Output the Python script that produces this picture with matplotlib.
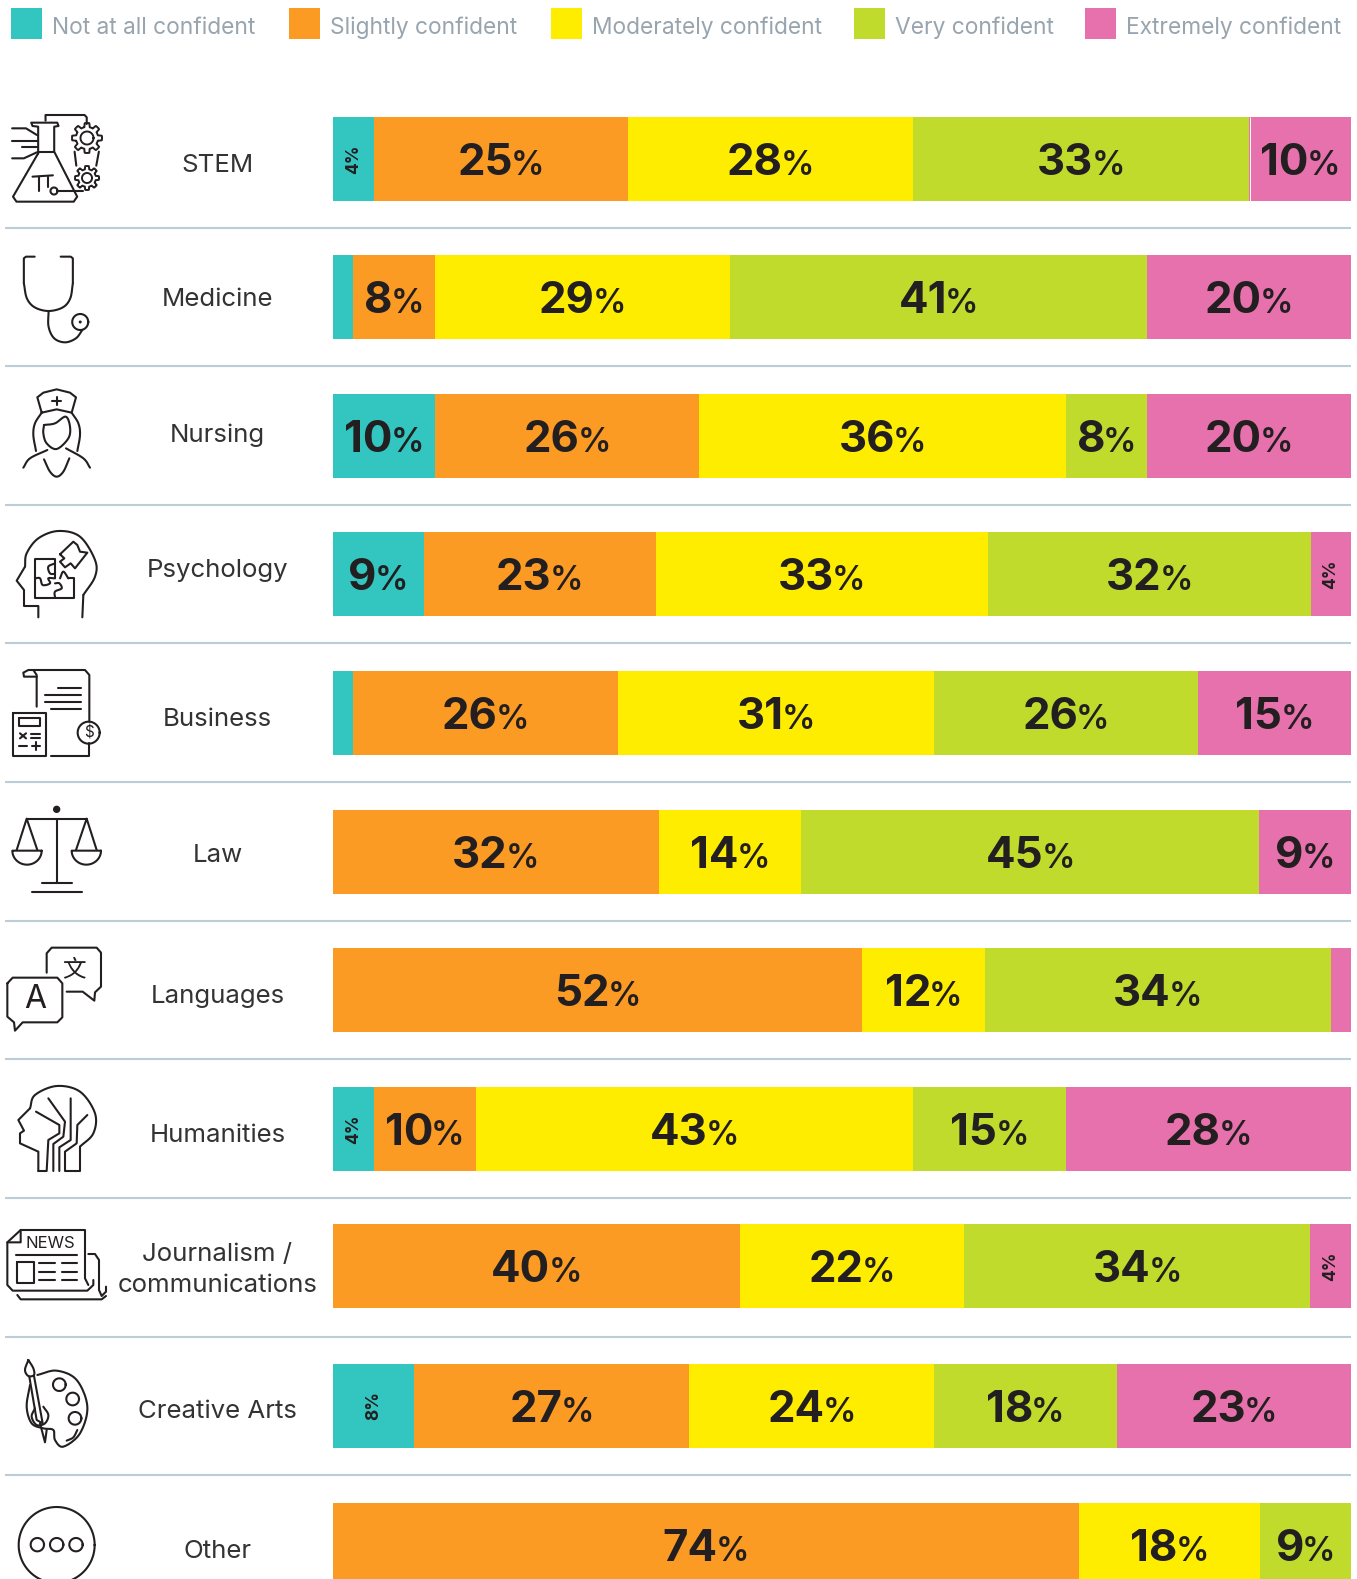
# chart: confidence by subject, stacked bars with line icons
import matplotlib
matplotlib.use('Agg')
import matplotlib.pyplot as plt
import numpy as np

plt.rcParams['font.family'] = ['Inter', 'DejaVu Sans']

subjects = ['STEM', 'Medicine', 'Nursing', 'Psychology', 'Business', 'Law', 'Languages',
            'Humanities', 'Journalism /\ncommunications', 'Creative Arts', 'Other']
levels = ['Not at all confident', 'Slightly confident', 'Moderately confident',
          'Very confident', 'Extremely confident']
not_at_all = [4, 2, 10, 9, 2, 0, 0, 4, 0, 8, 0]
slightly = [25, 8, 26, 23, 26, 32, 52, 10, 40, 27, 74]
moderately = [28, 29, 36, 33, 31, 14, 12, 43, 22, 24, 18]
very = [33, 41, 8, 32, 26, 45, 34, 15, 34, 18, 9]
extremely = [10, 20, 20, 4, 15, 9, 2, 28, 4, 23, 0]
colors = ['#33C6C0', '#FC9B24', '#FFED00', '#C1DB2C', '#E671AC']

# (row, series) of labels written small and turned on their side
side_labels = [(0, 0), (3, 4), (7, 0), (8, 4), (9, 0)]
no_labels = [(1, 0), (4, 0), (6, 4)]

INK = '#231F20'
W, H = 1357, 1579
fig = plt.figure(figsize=(W / 100, H / 100), dpi=100, facecolor='white')

# overlay in pixel units for legend, names, rules and icons
px = fig.add_axes([0, 0, 1, 1])
px.set_xlim(0, W)
px.set_ylim(H, 0)
px.axis('off')
px.set_zorder(2)

# bar axes: y is in picture pixels, x in percent
row_top = [117, 255, 394, 532, 671, 810, 948, 1087, 1224, 1364, 1503]
ax = fig.add_axes([333 / W, 0, 1018 / W, 1])
ax.set_ylim(H, 0)
ax.set_xlim(0, 100)
ax.axis('off')
ax.patch.set_alpha(0)

table = np.array([not_at_all, slightly, moderately, very, extremely], dtype=float)
shares = table / table.sum(axis=0) * 100
left = np.zeros(len(subjects))
rows = np.array(row_top) + 42
renderer = fig.canvas.get_renderer()

for s in range(5):
    ax.barh(rows, shares[s], left=left, height=84, color=colors[s], linewidth=0)
    for r in range(len(subjects)):
        val = int(table[s, r])
        if val == 0 or (r, s) in no_labels:
            continue
        xc = left[r] + shares[s, r] / 2
        if (r, s) in side_labels:
            ax.annotate('%d%%' % val, (xc, rows[r]), ha='center', va='center', rotation=90,
                        fontsize=12.5, fontweight='bold', color=INK)
            continue
        t1 = ax.annotate(str(val), (xc, rows[r]), xytext=(0, -16), textcoords='offset pixels',
                         ha='left', va='baseline', fontsize=31.5, fontweight='bold', color=INK)
        t2 = ax.annotate('%', (xc, rows[r]), xytext=(0, -16), textcoords='offset pixels',
                         ha='left', va='baseline', fontsize=24, fontweight='semibold', color=INK)
        w1 = t1.get_window_extent(renderer).width
        w2 = t2.get_window_extent(renderer).width
        t1.xyann = (-(w1 + w2) / 2 + 1, -16)
        t2.xyann = (-(w1 + w2) / 2 + w1 - 1, -16)
    left += shares[s]

# hairline left between the last two STEM blocks
px.plot([1249.5, 1249.5], [117, 201], color='white', lw=0.7, solid_capstyle='butt')

# legend
box_x = [11, 289, 551, 854, 1085]
text_x = [52, 330, 592, 895, 1126]
for i in range(5):
    px.add_patch(plt.Rectangle((box_x[i], 8), 31, 31, color=colors[i], linewidth=0))
    px.text(text_x[i], 28, levels[i], fontsize=16.4, color='#98A4AE', va='center', ha='left')

# subject names
name_y = [165, 300, 435, 571, 720, 856, 997, 1136, 1270, 1411, 1551]
for name, y in zip(subjects, name_y):
    px.text(217.5, y, name, fontsize=18.6, color='#333333', ha='center', va='center',
            linespacing=1.42)

# rules between rows
for y in [228, 366, 505, 643, 782, 921, 1059, 1198, 1337, 1475]:
    px.plot([5, 1351], [y, y], color='#BCCDDA', lw=1.5, solid_capstyle='butt')


# ---- icons ----
def smooth(p, n=12):
    p = np.array(p, dtype=float)
    q = np.vstack([2 * p[0] - p[1], p, 2 * p[-1] - p[-2]])
    out = []
    for i in range(1, len(q) - 2):
        for t in np.linspace(0, 1, n, endpoint=False):
            a = q[i - 1]; b = q[i]; c = q[i + 1]; d = q[i + 2]
            out.append(0.5 * (2 * b + (c - a) * t + (2 * a - 5 * b + 4 * c - d) * t ** 2
                              + (3 * b - a - 3 * c + d) * t ** 3))
    out.append(q[-2])
    return np.array(out)


def draw(p, y0=0, fx=3.0, fy=3.0, curve=False, lw=1.5):
    p = smooth(p) if curve else np.array(p, dtype=float)
    px.plot(p[:, 0] / fx, y0 + p[:, 1] / fy, color=INK, lw=lw, solid_capstyle='round',
            solid_joinstyle='round')


def ring(x, y, r, y0=0, fx=3.0, fy=3.0, lw=1.5, fill=False):
    a = np.linspace(0, 2 * np.pi, 80)
    X = (x + r * np.cos(a)) / fx
    Y = y0 + (y + r * np.sin(a)) / fy
    if fill:
        px.fill(X, Y, color=INK, lw=0)
    else:
        px.plot(X, Y, color=INK, lw=lw)


def gear(x, y, r, hole, teeth=8):
    a = np.linspace(0, 2 * np.pi, 320)
    rad = r * (0.87 + 0.13 * np.clip(3 * np.cos(teeth * a), -1, 1))
    px.plot(x + rad * np.cos(a), y + rad * np.sin(a), color=INK, lw=1.4)
    ring(x, y, hole, fx=1, fy=1, lw=1.4)


# STEM (first crop is 2.306 wide by 3 high)
f = dict(fx=2.306, fy=3.0)
draw([(88, 460), (88, 380), (75, 378), (72, 368), (132, 368), (135, 378), (125, 380), (125, 455),
      (178, 590), (170, 605), (38, 605), (30, 590), (88, 460)], **f)
draw([(88, 457), (125, 457)], **f)
draw([(105, 362), (105, 345), (195, 345), (200, 352), (200, 372)], **f)
draw([(28, 385), (60, 385), (85, 405)], **f)
draw([(28, 422), (85, 422)], **f)
draw([(50, 440), (85, 440)], **f)
draw([(28, 475), (55, 475), (85, 457)], **f)
draw([(75, 530), (122, 526)], **f)
draw([(90, 530), (90, 573)], **f)
draw([(110, 530), (110, 560)], **f)
ring(54, 191, 3.5, fx=1, fy=1)
draw([(135, 573), (192, 573)], **f)
gear(87, 138, 15, 6.5)
gear(87, 178, 12, 5)
draw([(172, 455), (176, 497)], **f)
draw([(228, 455), (222, 497)], **f)

# Medicine
draw([(80, 770), (60, 770), (55, 775), (55, 850)], **f)
draw([(168, 850), (168, 775), (163, 770), (140, 770)], **f)
draw([(55, 850), (62, 895), (80, 922), (112, 933), (145, 922), (162, 895), (168, 850)], curve=True, **f)
draw([(112, 933), (112, 980), (125, 1015), (150, 1027), (175, 1015), (190, 990)], curve=True, **f)
ring(185 / 2.306, 322, 8, fx=1, fy=1)
ring(185 / 2.306, 322, 1.5, fx=1, fy=1, fill=True)

# Nursing
y = 370
draw([(125, 128), (112, 82), (130, 68), (170, 58), (210, 68), (228, 82), (215, 128), (170, 118),
      (125, 128)], y)
draw([(157, 92), (183, 92)], y)
draw([(170, 80), (170, 104)], y)
draw([(125, 128), (105, 160), (100, 195), (108, 243)], y, curve=True)
draw([(215, 128), (235, 160), (240, 195), (232, 243)], y, curve=True)
draw([(132, 165), (165, 160), (197, 140), (210, 170), (205, 205), (170, 237), (140, 220), (130, 190),
      (132, 165)], y, curve=True)
draw([(70, 293), (90, 265), (142, 240)], y, curve=True)
draw([(270, 293), (250, 265), (198, 235)], y, curve=True)
draw([(132, 268), (150, 305), (170, 320), (190, 305), (208, 265)], y, curve=True)

# Psychology
y = 370
draw([(115, 742), (115, 708), (72, 708), (72, 660), (50, 632), (75, 590)], y)
draw([(75, 590), (80, 550), (115, 505), (175, 483), (240, 500), (285, 570), (285, 620), (250, 675)],
     y, curve=True)
draw([(250, 675), (247, 742)], y)
draw([(165, 625), (165, 575), (165, 568), (105, 568), (105, 683), (222, 683), (222, 625), (205, 625)], y)
draw([(165, 683), (165, 665), (185, 655), (178, 640), (165, 640)], y, curve=True)
draw([(105, 625), (120, 625), (128, 645), (150, 640), (145, 625), (165, 625)], y, curve=True)
draw([(165, 580), (145, 590), (150, 610), (165, 612)], y, curve=True)
draw([(180, 625), (190, 605), (205, 625)], y, curve=True)
draw([(180, 553), (220, 515), (232, 525), (240, 545), (262, 548), (225, 595), (212, 580), (195, 592),
      (180, 575), (193, 565), (180, 553)], y)

# Business
y = 370
draw([(110, 1010), (110, 915), (100, 900), (255, 900), (268, 915), (268, 1055)], y)
draw([(268, 1120), (268, 1157), (152, 1157)], y)
draw([(110, 920), (72, 920), (70, 908), (85, 900), (100, 900)], y)
for a, b, c in [(173, 242, 955), (135, 242, 975), (135, 242, 997), (152, 242, 1017)]:
    draw([(a, c), (b, c)], y)
ring(266, 1088, 33, y)
px.text(266 / 3, y + 1088 / 3, '$', fontsize=11, color=INK, ha='center', va='center')
draw([(40, 1028), (137, 1028), (137, 1157), (40, 1157), (40, 1028)], y)
draw([(58, 1045), (120, 1045), (120, 1067), (58, 1067), (58, 1045)], y)
draw([(60, 1090), (78, 1105)], y)
draw([(78, 1090), (60, 1105)], y)
draw([(93, 1092), (120, 1092)], y)
draw([(93, 1103), (120, 1103)], y)
draw([(58, 1127), (80, 1127)], y)
draw([(96, 1127), (120, 1127)], y)
draw([(108, 1115), (108, 1139)], y)

# Law
y = 790
ring(170, 58, 11, y, fill=True)
draw([(80, 86), (260, 86)], y)
draw([(170, 86), (170, 278)], y)
draw([(125, 278), (215, 278)], y)
draw([(95, 306), (245, 306)], y)
for cx, top in [(81, 80), (259, 260)]:
    draw([(cx - 31, 180), (top, 86), (cx + 31, 180)], y)
    ang = np.linspace(0, np.pi, 30)
    pan = [(cx + 44 * np.cos(u), 182 + 42 * np.sin(u)) for u in ang]
    draw(pan + [pan[0]], y)

# Languages
y = 790
draw([(140, 548), (140, 490), (155, 473), (290, 473), (303, 488), (303, 590), (285, 607), (283, 632),
      (248, 605), (200, 605)], y)
draw([(22, 580), (38, 563), (172, 563), (187, 580), (187, 682), (172, 697), (68, 697), (45, 722),
      (42, 697), (22, 680), (22, 580)], y)
px.text(105 / 3, y + 630 / 3, 'A', fontsize=23, color=INK, ha='center', va='center')
px.text(222 / 3, y + 540 / 3, '文', fontsize=17, color=INK, ha='center', va='center',
        family=['Noto Sans CJK SC', 'DejaVu Sans'])

# Humanities
y = 790
draw([(115, 1143), (115, 1085), (60, 1060), (60, 1030), (72, 1022), (55, 990), (90, 955)], y)
draw([(90, 955), (105, 915), (170, 888), (240, 905), (285, 970), (280, 1030), (240, 1070)], y, curve=True)
draw([(240, 1070), (240, 1143), (195, 1143), (195, 1085), (230, 1060), (232, 1005), (262, 975)], y)
draw([(145, 925), (195, 995), (190, 1040), (160, 1062), (160, 1143)], y)
draw([(108, 965), (178, 1005), (178, 1030), (145, 1050), (140, 1143), (115, 1143)], y)
draw([(212, 925), (212, 1050), (178, 1072), (178, 1143)], y)

# Journalism
y = 1210
draw([(22, 97), (62, 60), (255, 60), (255, 205), (265, 225)], y)
draw([(62, 60), (62, 97), (22, 97), (22, 225), (38, 242), (262, 242), (280, 225), (280, 210)], y)
px.text(152 / 3, y + 100 / 3, 'NEWS', fontsize=12, color=INK, ha='center', va='center')
draw([(48, 135), (230, 135)], y)
draw([(52, 155), (102, 155), (102, 218), (52, 218), (52, 155)], y)
for c in [160, 185, 210]:
    draw([(118, c), (165, c)], y)
    draw([(185, c), (232, c)], y)
draw([(265, 132), (285, 132), (297, 150), (297, 240), (305, 258), (318, 245), (318, 230)], y)
draw([(52, 255), (62, 268), (305, 268), (318, 258)], y)

# Creative Arts
y = 1210
draw([(112, 495), (170, 482), (230, 510), (262, 590), (240, 670), (190, 710), (165, 690), (160, 660),
      (130, 655), (95, 640), (80, 590), (90, 525)], y, curve=True)
ring(178, 524, 19, y)
ring(218, 567, 19, y)
ring(225, 625, 19, y)
draw([(85, 450), (75, 480), (85, 498), (102, 495), (100, 475), (85, 450)], y, curve=True)
draw([(88, 500), (110, 630), (128, 640), (102, 498)], y)
draw([(120, 640), (135, 697), (140, 660)], y)
draw([(105, 595), (95, 620), (110, 645), (135, 640), (145, 615), (130, 590)], y, curve=True)
draw([(200, 692), (220, 682), (232, 660)], y, curve=True)

# Other
y = 1210
ring(170, 1005, 114, y)
for c in [112, 170, 228]:
    ring(c, 1004, 20, y)

fig.savefig('out.png', dpi=100)
